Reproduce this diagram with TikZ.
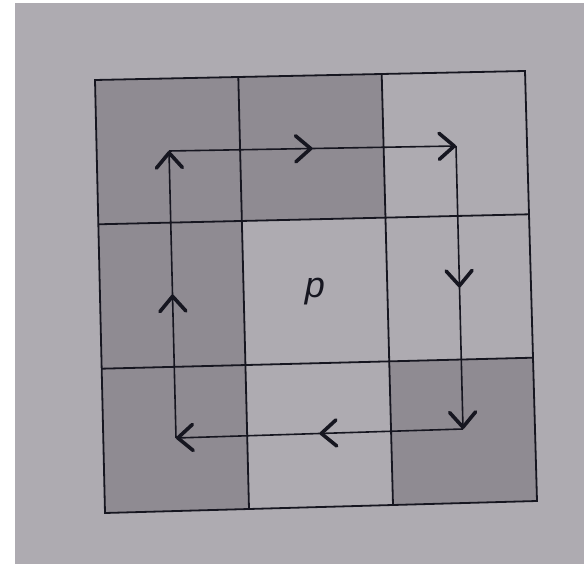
\documentclass[tikz,border=0pt]{standalone}
\usepackage{fontspec}
\setsansfont{Liberation Sans}
\usetikzlibrary{arrows.meta,decorations.markings}
\definecolor{paper}{RGB}{174,171,177}
\definecolor{shade}{RGB}{143,139,146}
\definecolor{ink}{RGB}{22,22,32}
\begin{document}
\begin{tikzpicture}[x=1pt,y=-1pt,
  gridline/.style={draw=ink, line width=1.8pt, line join=miter},
  cellfill/.style={fill=shade},
  barb/.tip={Straight Barb[length=15pt,width=26pt,line width=3.6pt,round]},
  flow/.style={draw=ink, line width=1.6pt, -barb,
    decoration={markings, mark=at position 0.5 with {\arrow{barb}}},
    postaction={decorate}},
  label/.style={font=\fontsize{36}{36}\selectfont\sffamily\itshape, text=ink, inner sep=0pt}
]
\useasboundingbox (0,0) rectangle (584,564);
\fill[white] (0,0) rectangle (584,564);
\fill[paper] (15,3) rectangle (584,564);
% grid points g<col><row>
\coordinate (g00) at (95,80);    \coordinate (g10) at (238.3,77);  \coordinate (g20) at (381.7,74);  \coordinate (g30) at (525,71);
\coordinate (g01) at (98.3,224.3);\coordinate (g11) at (241.9,221); \coordinate (g21) at (385.5,217.7);\coordinate (g31) at (529,214.3);
\coordinate (g02) at (101.7,368.7);\coordinate (g12) at (245.4,365);\coordinate (g22) at (389.2,361.3);\coordinate (g32) at (533,357.7);
\coordinate (g03) at (105,513);  \coordinate (g13) at (249,509);   \coordinate (g23) at (393,505);   \coordinate (g33) at (537,501);
% shaded cells
\fill[cellfill] (g00)--(g10)--(g11)--(g01)--cycle;
\fill[cellfill] (g10)--(g20)--(g21)--(g11)--cycle;
\fill[cellfill] (g01)--(g11)--(g12)--(g02)--cycle;
\fill[cellfill] (g02)--(g12)--(g13)--(g03)--cycle;
\fill[cellfill] (g22)--(g32)--(g33)--(g23)--cycle;
% grid
\draw[gridline] (g00)--(g30)--(g33)--(g03)--cycle;
\draw[gridline] (g10)--(g13);
\draw[gridline] (g20)--(g23);
\draw[gridline] (g01)--(g31);
\draw[gridline] (g02)--(g32);
% path corners
\coordinate (pa) at (169,151);
\coordinate (pb) at (456,146);
\coordinate (pc) at (463,429);
\coordinate (pd) at (176,438);
\draw[flow] (pa) -- (pb);
\draw[flow] (pb) -- (pc);
\draw[flow] (pc) -- (pd);
\draw[flow] (pd) -- (pa);
\node[label] (p) at (315,292) {p};
\end{tikzpicture}
\end{document}
